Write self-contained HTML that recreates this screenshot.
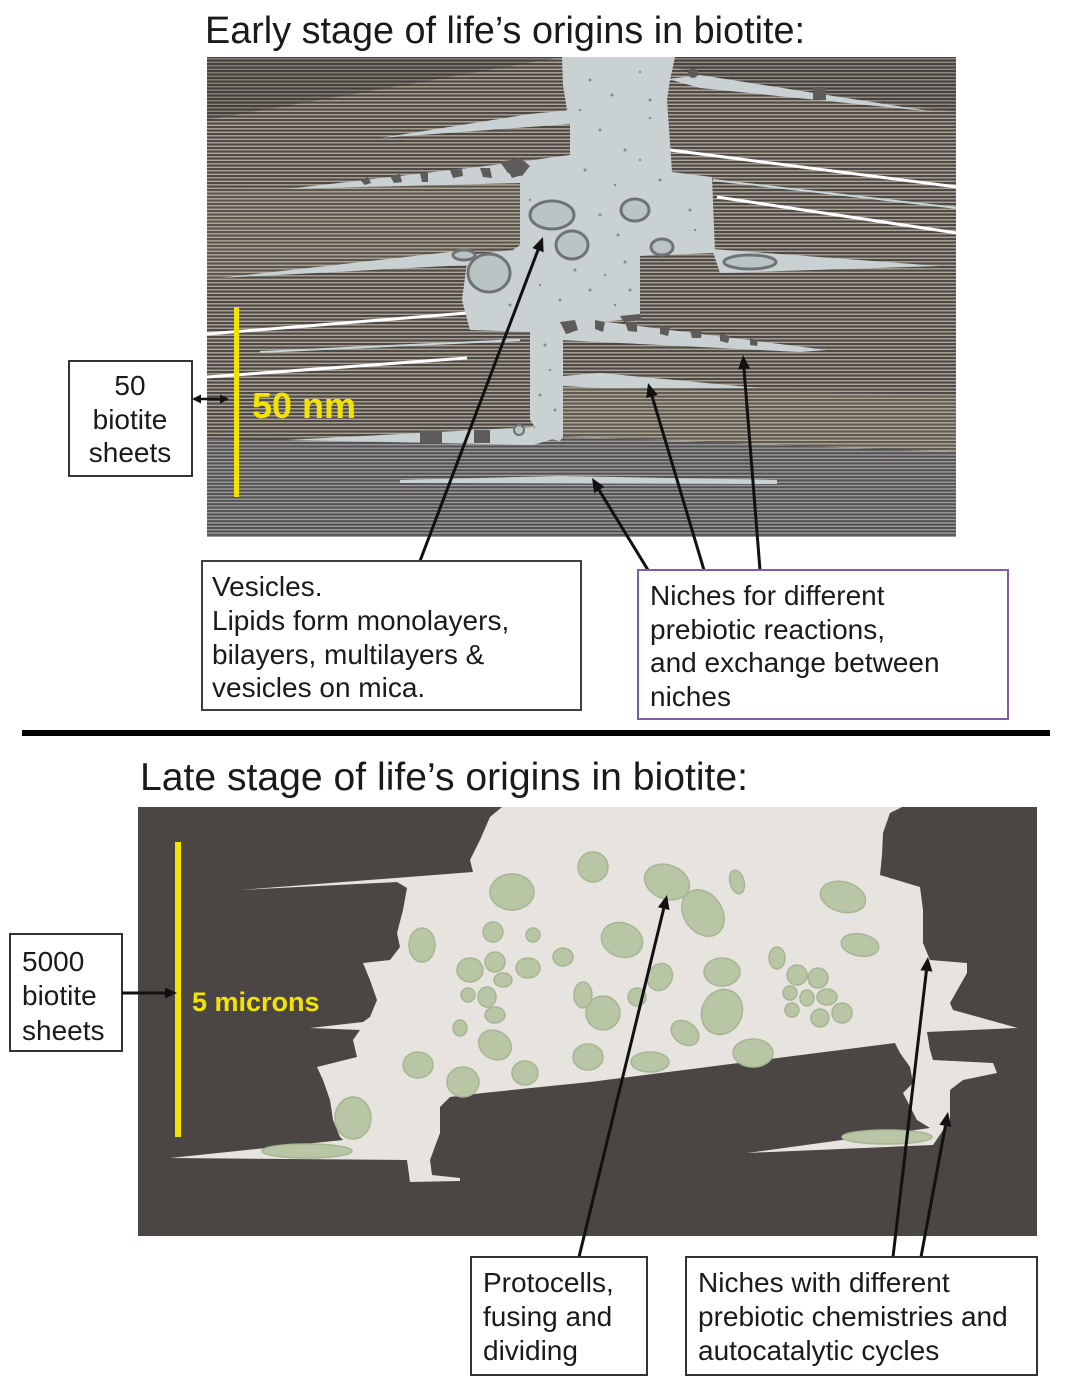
<!DOCTYPE html>
<html>
<head>
<meta charset="utf-8">
<style>
html,body{margin:0;padding:0;background:#fff;}
svg{display:block;}
text{font-family:"Liberation Sans",Arial,sans-serif;fill:#1a1a1a;}
</style>
</head>
<body>
<svg width="1068" height="1394" viewBox="0 0 1068 1394" xmlns="http://www.w3.org/2000/svg">
<defs>
  <pattern id="st" width="8" height="3.5" patternUnits="userSpaceOnUse">
    <rect width="8" height="3.5" fill="#aca496"/>
    <rect width="8" height="2.1" fill="#4d4946"/>
  </pattern>
  <pattern id="st2" width="8" height="3.4" patternUnits="userSpaceOnUse">
    <rect width="8" height="3.4" fill="#a2a1a3"/>
    <rect width="8" height="2.1" fill="#535151"/>
  </pattern>
  <clipPath id="topclip"><rect x="207" y="57" width="749" height="480"/></clipPath>
  <clipPath id="botclip"><rect x="138" y="807" width="899" height="429"/></clipPath>
</defs>

<rect width="1068" height="1394" fill="#ffffff"/>

<!-- Title top -->
<text x="205" y="43" font-size="38" textLength="600" lengthAdjust="spacingAndGlyphs">Early stage of life’s origins in biotite:</text>

<!-- TOP IMAGE -->
<g clip-path="url(#topclip)">
  <rect x="207" y="57" width="749" height="480" fill="url(#st)"/>
  <!-- lower gray band -->
  <polygon points="207,440 560,436 956,452 956,537 207,537" fill="url(#st2)"/>
  <!-- tonal overlays -->
  <polygon points="207,57 562,57 207,120" fill="#2e2a27" opacity="0.28"/>
  <polygon points="653,57 956,57 956,112 700,78" fill="#2e2a27" opacity="0.2"/>
  <polygon points="207,190 520,183 520,245 207,280" fill="#c8b89a" opacity="0.12"/>
  <polygon points="563,387 956,395 956,452 563,437" fill="#c8c098" opacity="0.15"/>

  <!-- white lines -->
  <line x1="670" y1="150" x2="957" y2="187" stroke="#ffffff" stroke-width="3"/>
  <line x1="717" y1="197" x2="957" y2="233" stroke="#ffffff" stroke-width="3"/>
  <line x1="713" y1="180" x2="957" y2="208" stroke="#c8d4d8" stroke-width="2"/>
  <line x1="207" y1="334" x2="467" y2="313" stroke="#ffffff" stroke-width="3"/>
  <line x1="207" y1="377" x2="467" y2="358" stroke="#ffffff" stroke-width="3"/>
  <line x1="260" y1="352" x2="520" y2="340" stroke="#c8d4d8" stroke-width="2"/>

  <!-- channel -->
  <polygon fill="#c9d1d2" points="562,57 563,85 567,110 570,118 570,155 533,160 520,183 520,245 513,250 467,255 467,262 462,300 470,330 530,332 530,420 537,430 540,437 560,441 563,437 563,335 600,322 640,318 640,256 715,253 712,177 672,172 667,100 670,80 675,57"/>
  <!-- gap wedges -->
  <polygon fill="#c9d1d2" points="570,110 530,114 380,138 570,124"/>
  <polygon fill="#c9d1d2" points="287,189 520,162 570,155 520,183"/>
  <polygon fill="#c9d1d2" points="220,278 467,250 467,265"/>
  <polygon fill="#c9d1d2" points="287,440 533,427 560,437 533,445"/>
  <polygon fill="#c9d1d2" points="400,480 560,476 777,480 777,484 400,483"/>
  <polygon fill="#c9d1d2" points="712,249 940,266 720,273"/>
  <polygon fill="#c9d1d2" points="668,79 700,75 935,112 700,88"/>
  <polygon fill="#c9d1d2" points="563,376 600,373 760,388 600,388 563,386"/>
  <polygon fill="#c9d1d2" points="560,321 600,321 827,350 800,352 560,340"/>

  <!-- dark blobs -->
  <g fill="#5e5c5b">
    <circle cx="693" cy="73" r="5"/>
    <rect x="813" y="87" width="13" height="13"/>
    <rect x="420" y="431" width="22" height="12"/>
    <rect x="474" y="430" width="16" height="13"/>
    <path d="M360,180 l8,-3 l3,6 l-6,2z M390,176 l10,-2 l2,8 l-8,1z M420,173 l8,0 l0,9 l-6,0z M450,170 l12,-1 l1,7 l-10,2z M480,168 l10,0 l2,10 l-9,-1z M505,165 l12,-2 l5,12 l-10,3z"/>
    <path d="M560,322 l15,-2 l3,10 l-12,4z M595,320 l10,2 l-2,10 l-8,-3z M625,322 l12,0 l0,10 l-9,-1z M660,326 l10,1 l-2,9 l-8,-2z M690,330 l12,0 l-1,8 l-9,0z M720,334 l10,2 l-2,7 l-8,-2z M750,338 l8,2 l-1,6 l-7,-1z"/>
    <path d="M500,162 l20,-4 l10,8 l-8,10 l-14,-3z"/>
    <path d="M563,325 l10,-3 l4,8 l-10,4z M620,316 l20,-2 l2,6 l-18,2z"/>
  </g>

  <!-- vesicles -->
  <g fill="#bac4c5" stroke="#6e7474" stroke-width="3">
    <ellipse cx="552" cy="215" rx="22" ry="14"/>
    <ellipse cx="572" cy="245" rx="16" ry="14"/>
    <ellipse cx="489" cy="273" rx="21" ry="19"/>
    <ellipse cx="464" cy="255" rx="11" ry="5"/>
    <ellipse cx="635" cy="210" rx="14" ry="11"/>
    <ellipse cx="662" cy="247" rx="11" ry="8"/>
    <ellipse cx="750" cy="262" rx="26" ry="7"/>
    <circle cx="519" cy="430" r="5" stroke-width="2"/>
  </g>
  <!-- speckles -->
  <g fill="#858d8e">
    <circle cx="590" cy="80" r="1.5"/><circle cx="612" cy="95" r="1.5"/><circle cx="640" cy="72" r="1.2"/>
    <circle cx="600" cy="130" r="1.5"/><circle cx="625" cy="150" r="1.5"/><circle cx="650" cy="118" r="1.2"/>
    <circle cx="585" cy="170" r="1.5"/><circle cx="615" cy="185" r="1.2"/><circle cx="660" cy="180" r="1.5"/>
    <circle cx="600" cy="215" r="1.5"/><circle cx="618" cy="235" r="1.5"/><circle cx="625" cy="262" r="1.5"/>
    <circle cx="605" cy="275" r="1.2"/><circle cx="590" cy="290" r="1.5"/><circle cx="560" cy="300" r="1.5"/>
    <circle cx="540" cy="285" r="1.2"/><circle cx="510" cy="305" r="1.5"/><circle cx="545" cy="345" r="1.5"/>
    <circle cx="550" cy="370" r="1.2"/><circle cx="540" cy="395" r="1.5"/><circle cx="555" cy="410" r="1.5"/>
    <circle cx="530" cy="200" r="1.2"/><circle cx="690" cy="210" r="1.5"/><circle cx="695" cy="230" r="1.2"/>
    <circle cx="630" cy="290" r="1.5"/><circle cx="615" cy="305" r="1.2"/><circle cx="575" cy="270" r="1.5"/>
    <circle cx="650" cy="100" r="1.5"/><circle cx="580" cy="110" r="1.2"/><circle cx="640" cy="160" r="1.2"/>
  </g>
</g>

<!-- yellow scale bar top -->
<rect x="234" y="307" width="5" height="190" fill="#f2e400"/>
<text x="252" y="418" font-size="36" font-weight="bold" style="fill:#f2e400">50 nm</text>

<!-- 50 biotite sheets box -->
<rect x="69" y="361" width="123" height="115" fill="#fff" stroke="#333" stroke-width="2"/>
<text x="130" y="395" font-size="28" text-anchor="middle">50</text>
<text x="130" y="429" font-size="28" text-anchor="middle">biotite</text>
<text x="130" y="462" font-size="28" text-anchor="middle">sheets</text>
<line x1="200" y1="399" x2="221" y2="399" stroke="#111" stroke-width="2.5"/>
<polygon points="192,399 201,394.5 201,403.5" fill="#111"/>
<polygon points="229,399 220,394.5 220,403.5" fill="#111"/>

<!-- top arrows -->
<g stroke="#111" stroke-width="3" fill="none">
  <line x1="420" y1="561" x2="538" y2="250"/>
  <line x1="648" y1="570" x2="599" y2="490"/>
  <line x1="704" y1="570" x2="652" y2="396"/>
  <line x1="760" y1="570" x2="744" y2="369"/>
</g>
<g fill="#111">
  <polygon points="543,237 543.6,252.2 532.4,248"/>
  <polygon points="592,478 604.4,486.9 594.2,493.1"/>
  <polygon points="648,383 657.7,394.7 646.3,398.1"/>
  <polygon points="743,355 750.1,368.5 738.1,369.5"/>
</g>

<!-- Vesicles box -->
<rect x="202" y="561" width="379" height="149" fill="#fff" stroke="#404040" stroke-width="2"/>
<text x="212" y="596" font-size="28">Vesicles.</text>
<text x="212" y="630" font-size="28">Lipids form monolayers,</text>
<text x="212" y="664" font-size="28">bilayers, multilayers &amp;</text>
<text x="212" y="697" font-size="28">vesicles on mica.</text>

<!-- Niches box (purple) -->
<rect x="638" y="570" width="370" height="149" fill="#fff" stroke="#7f5ca6" stroke-width="2"/>
<text x="650" y="605" font-size="28">Niches for different</text>
<text x="650" y="639" font-size="28">prebiotic reactions,</text>
<text x="650" y="672" font-size="28">and exchange between</text>
<text x="650" y="706" font-size="28">niches</text>

<!-- divider -->
<rect x="22" y="730" width="1028" height="6" fill="#000"/>

<!-- Title bottom -->
<text x="140" y="790" font-size="39" textLength="608" lengthAdjust="spacingAndGlyphs">Late stage of life’s origins in biotite:</text>

<!-- BOTTOM IMAGE -->
<g clip-path="url(#botclip)">
  <rect x="138" y="807" width="899" height="429" fill="#4b4643"/>
  <polygon fill="#e7e3de" points="502,807 902,807 890,813 883,833 882,855 880,875 920,887 923,910 923,943 930,960 967,963 967,973 950,1003 953,1010 1018,1028 927,1032 930,1050 933,1060 993,1063 997,1073 963,1080 950,1090 950,1120 933,1145 747,1153 930,1128 917,1120 903,1093 913,1083 910,1067 900,1053 895,1043 590,1082 483,1093 450,1097 440,1107 440,1133 430,1160 432,1175 460,1178 460,1181 410,1182 407,1160 170,1158 343,1140 340,1137 333,1120 330,1100 323,1080 317,1067 357,1057 353,1040 360,1030 310,1028 363,1022 370,1017 377,1000 370,980 363,963 390,960 400,947 397,933 403,910 407,888 397,882 240,890 473,872 470,860 480,840 490,817"/>
  <!-- protocells -->
  <g fill="#b8c6a5" stroke="#a6b593" stroke-width="1.5">
    <ellipse cx="512" cy="892" rx="22" ry="18"/>
    <ellipse cx="422" cy="945" rx="13" ry="17"/>
    <ellipse cx="493" cy="932" rx="10" ry="10"/>
    <ellipse cx="533" cy="935" rx="7" ry="7"/>
    <ellipse cx="470" cy="970" rx="13" ry="12"/>
    <ellipse cx="495" cy="962" rx="10" ry="10"/>
    <ellipse cx="528" cy="968" rx="12" ry="10"/>
    <ellipse cx="563" cy="957" rx="10" ry="9"/>
    <ellipse cx="503" cy="980" rx="9" ry="7"/>
    <ellipse cx="468" cy="995" rx="7" ry="7"/>
    <ellipse cx="487" cy="997" rx="9" ry="10"/>
    <ellipse cx="495" cy="1015" rx="10" ry="8"/>
    <ellipse cx="460" cy="1028" rx="7" ry="8"/>
    <ellipse cx="495" cy="1045" rx="17" ry="14" transform="rotate(30 495 1045)"/>
    <ellipse cx="418" cy="1065" rx="15" ry="13"/>
    <ellipse cx="463" cy="1082" rx="16" ry="15"/>
    <ellipse cx="525" cy="1073" rx="13" ry="12"/>
    <ellipse cx="593" cy="867" rx="15" ry="15"/>
    <ellipse cx="667" cy="882" rx="23" ry="17" transform="rotate(20 667 882)"/>
    <ellipse cx="703" cy="913" rx="19" ry="25" transform="rotate(-35 703 913)"/>
    <ellipse cx="737" cy="882" rx="7" ry="12" transform="rotate(-15 737 882)"/>
    <ellipse cx="843" cy="897" rx="23" ry="15" transform="rotate(15 843 897)"/>
    <ellipse cx="860" cy="945" rx="19" ry="11" transform="rotate(10 860 945)"/>
    <ellipse cx="622" cy="940" rx="21" ry="17" transform="rotate(20 622 940)"/>
    <ellipse cx="660" cy="977" rx="12" ry="14" transform="rotate(30 660 977)"/>
    <ellipse cx="722" cy="972" rx="18" ry="14"/>
    <ellipse cx="777" cy="958" rx="8" ry="11"/>
    <ellipse cx="797" cy="975" rx="10" ry="10"/>
    <ellipse cx="818" cy="978" rx="10" ry="10"/>
    <ellipse cx="790" cy="993" rx="7" ry="7"/>
    <ellipse cx="807" cy="998" rx="7" ry="8"/>
    <ellipse cx="827" cy="997" rx="10" ry="8"/>
    <ellipse cx="792" cy="1010" rx="7" ry="7"/>
    <ellipse cx="820" cy="1018" rx="9" ry="9"/>
    <ellipse cx="842" cy="1013" rx="10" ry="10"/>
    <ellipse cx="637" cy="997" rx="9" ry="9"/>
    <ellipse cx="603" cy="1013" rx="17" ry="17"/>
    <ellipse cx="583" cy="995" rx="9" ry="13"/>
    <ellipse cx="722" cy="1012" rx="20" ry="23" transform="rotate(25 722 1012)"/>
    <ellipse cx="685" cy="1033" rx="15" ry="11" transform="rotate(35 685 1033)"/>
    <ellipse cx="588" cy="1057" rx="15" ry="13"/>
    <ellipse cx="650" cy="1062" rx="19" ry="10"/>
    <ellipse cx="753" cy="1053" rx="20" ry="14"/>
    <ellipse cx="353" cy="1118" rx="18" ry="21"/>
    <ellipse cx="307" cy="1151" rx="45" ry="7"/>
    <ellipse cx="887" cy="1137" rx="45" ry="7"/>
  </g>
</g>

<!-- yellow scale bar bottom -->
<rect x="175" y="842" width="6" height="295" fill="#f2e400"/>
<text x="192" y="1011" font-size="27" font-weight="bold" style="fill:#f2e400">5 microns</text>

<!-- 5000 box -->
<rect x="10" y="934" width="112" height="117" fill="#fff" stroke="#333" stroke-width="2"/>
<text x="22" y="971" font-size="28">5000</text>
<text x="22" y="1005" font-size="28">biotite</text>
<text x="22" y="1040" font-size="28">sheets</text>
<line x1="122" y1="993" x2="166" y2="993" stroke="#111" stroke-width="3"/>
<polygon points="177,993 165,987.5 165,998.5" fill="#111"/>

<!-- bottom arrows -->
<g stroke="#111" stroke-width="3" fill="none">
  <line x1="579" y1="1257" x2="663.7" y2="908.6"/>
  <line x1="893" y1="1257" x2="926.4" y2="970.9"/>
  <line x1="921" y1="1257" x2="945.4" y2="1125.8"/>
</g>
<g fill="#111">
  <polygon points="667,895 669.5,910 657.9,907.2"/>
  <polygon points="928,957 932.4,971.6 920.4,970.2"/>
  <polygon points="948,1112 951.3,1126.9 939.5,1124.7"/>
</g>

<!-- Protocells box -->
<rect x="471" y="1257" width="176" height="118" fill="#fff" stroke="#333" stroke-width="2"/>
<text x="483" y="1292" font-size="28">Protocells,</text>
<text x="483" y="1326" font-size="28">fusing and</text>
<text x="483" y="1360" font-size="28">dividing</text>

<!-- Niches box bottom -->
<rect x="686" y="1257" width="351" height="118" fill="#fff" stroke="#333" stroke-width="2"/>
<text x="698" y="1292" font-size="28">Niches with different</text>
<text x="698" y="1326" font-size="28">prebiotic chemistries and</text>
<text x="698" y="1360" font-size="28">autocatalytic cycles</text>
</svg>
</body>
</html>
